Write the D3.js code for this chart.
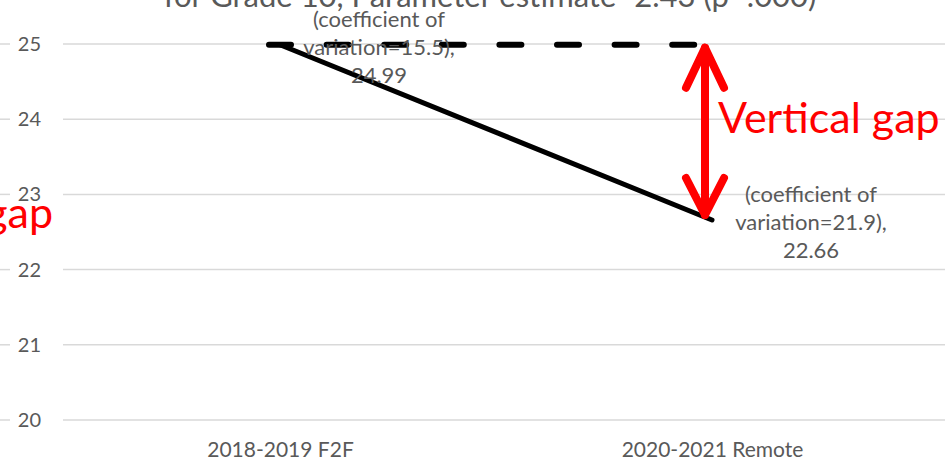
<!DOCTYPE html>
<html>
<head>
<meta charset="utf-8">
<script src="https://cdn.jsdelivr.net/npm/d3@7/dist/d3.min.js"></script>
<style>
  html, body { margin: 0; padding: 0; background: #fff; overflow: hidden; }
  svg { display: block; }
  text { font-family: "Gill Sans", "Gill Sans MT", Lato, "Noto Sans", sans-serif; }
</style>
</head>
<body>
<svg id="chart" width="945" height="462"></svg>
<script>
// Mean scores by school year, with the pre-pandemic level carried forward
const categories = ["2018-2019 F2F", "2020-2021 Remote"];
const observed = [24.99, 22.66];
const baseline = [24.99, 24.99];
const coefVariation = [15.5, 21.9];
const yTicks = [20, 21, 22, 23, 24, 25];
const titleText = "for Grade 10, Parameter estimate=2.43 (p=.000)";
const gapLabel = "Vertical gap";
const sideLabel = "gap";

const W = 945, H = 462;
const svg = d3.select("#chart");

const x = d3.scalePoint().domain(categories).range([64, 928]).padding(0.5);
const y = d3.scaleLinear().domain([20, 25]).range([420, 44]);

const grey = "#595959";
const gridColor = "#d9d9d9";
const red = "#ff0000";

// title (sits partly above the frame)
svg.append("text")
  .attr("x", 490).attr("y", 7)
  .attr("text-anchor", "middle")
  .attr("font-size", 31)
  .attr("fill", grey)
  .text(titleText);

// horizontal gridlines
const grid = svg.append("g");
yTicks.forEach(t => {
  grid.append("line")
    .attr("x1", 0).attr("x2", 10)
    .attr("y1", y(t)).attr("y2", y(t))
    .attr("stroke", gridColor).attr("stroke-width", 1.5);
  grid.append("line")
    .attr("x1", 63).attr("x2", W)
    .attr("y1", y(t)).attr("y2", y(t))
    .attr("stroke", gridColor).attr("stroke-width", 1.5);
});

// y axis labels
const yAxis = d3.axisLeft(y).tickValues(yTicks).tickSize(0).tickPadding(0)
  .tickFormat(d3.format("d"));
const yg = svg.append("g").attr("transform", "translate(41,0)").call(yAxis);
yg.select(".domain").remove();
yg.selectAll("text")
  .attr("font-size", 20).attr("fill", grey)
  .attr("font-family", null);

// x axis labels
const xAxis = d3.axisBottom(x).tickSize(0).tickPadding(0);
const xg = svg.append("g").attr("transform", "translate(0,442)").call(xAxis);
xg.select(".domain").remove();
xg.selectAll("text")
  .attr("font-size", 21).attr("fill", grey)
  .attr("font-family", null);

// carried-forward level (dashed)
const x0 = x(categories[0]) - 11;
svg.append("path")
  .attr("d", d3.line()([[x0, y(baseline[0])], [x(categories[1]), y(baseline[1])]]))
  .attr("fill", "none")
  .attr("stroke", "#000")
  .attr("stroke-width", 6)
  .attr("stroke-linecap", "round")
  .attr("stroke-dasharray", "22 35.6");

// observed means (solid)
const line = d3.line().x((d, i) => x(categories[i])).y(d => y(d));
svg.append("path")
  .datum(observed)
  .attr("d", line)
  .attr("fill", "none")
  .attr("stroke", "#000")
  .attr("stroke-width", 5)
  .attr("stroke-linecap", "round");

// data labels
observed.forEach((v, i) => {
  const cx = x(categories[i]) + 99;
  const cy = y(v);
  const lines = ["(coefficient of", `variation=${coefVariation[i]}),`, v.toFixed(2)];
  const t = svg.append("text")
    .attr("text-anchor", "middle")
    .attr("font-size", 22)
    .attr("fill", grey);
  lines.forEach((s, k) => {
    t.append("tspan")
      .attr("x", cx)
      .attr("y", cy + 10 + (k - 1) * 28)
      .text(s);
  });
});

// double-headed arrow marking the vertical gap
const ax = x(categories[1]) - 7;
const yTop = y(baseline[1]) + 3;
const yBot = y(observed[1]) - 5;
const arrow = svg.append("g")
  .attr("fill", "none")
  .attr("stroke", red)
  .attr("stroke-width", 8)
  .attr("stroke-linecap", "round")
  .attr("stroke-linejoin", "round");
arrow.append("line").attr("x1", ax).attr("x2", ax).attr("y1", yTop).attr("y2", yBot);
arrow.append("path").attr("d", `M${ax - 19},${yTop + 40} L${ax},${yTop} L${ax + 19},${yTop + 40}`);
arrow.append("path").attr("d", `M${ax - 19},${yBot - 37} L${ax},${yBot} L${ax + 19},${yBot - 37}`);

svg.append("text")
  .attr("x", 718).attr("y", 133)
  .attr("font-size", 43)
  .attr("fill", red)
  .text(gapLabel);

svg.append("text")
  .attr("x", 53).attr("y", 228)
  .attr("text-anchor", "end")
  .attr("font-size", 43)
  .attr("fill", red)
  .text(sideLabel);
</script>
</body>
</html>
